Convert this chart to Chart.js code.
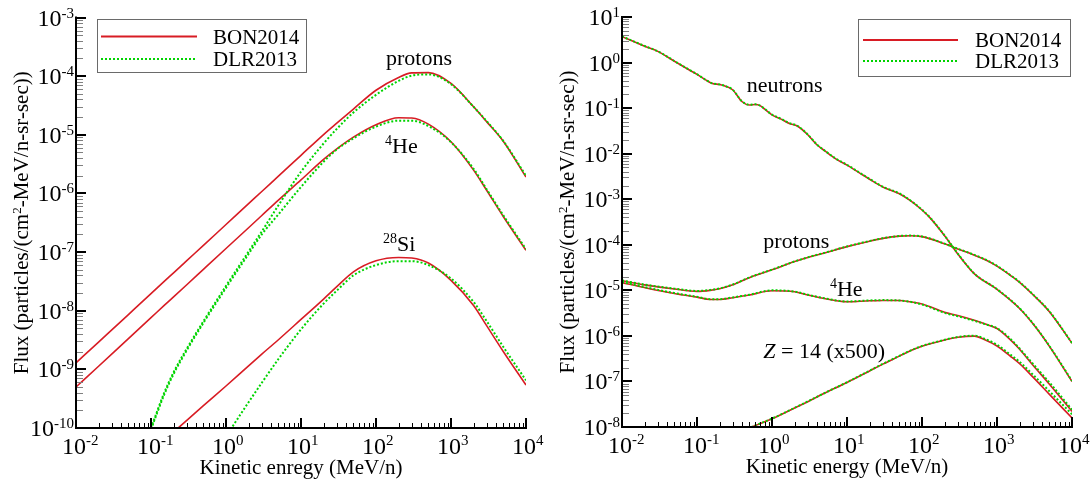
<!DOCTYPE html>
<html><head><meta charset="utf-8">
<script src="https://cdn.jsdelivr.net/npm/chart.js@4.4.0/dist/chart.umd.min.js"></script>
<style>
html,body{margin:0;padding:0;background:#fff;}
#wrap{position:relative;width:1090px;height:485px;background:#fff;}
canvas{position:absolute;top:0;}
#c1{left:0;} #c2{left:545px;}
</style></head><body>
<div id="wrap"><canvas id="c1" width="545" height="485"></canvas><canvas id="c2" width="545" height="485"></canvas></div>
<script>
// ---------- data ----------
const energyLeft = [0.01,0.02,0.05,0.1,0.15,0.2,0.3,0.5,1,2,3,5,10,20,30,50,100,200,300,500,1000,2000,3000,5000,10000];
const leftProtonsBON = [1.29e-9,2.92e-9,8.6e-9,1.95e-8,3.16e-8,4.42e-8,7.13e-8,1.30e-7,2.95e-7,6.68e-7,1.08e-6,1.97e-6,4.47e-6,1.01e-5,1.58e-5,2.75e-5,5.75e-5,9.5e-5,1.135e-4,1.15e-4,7.5e-5,3.0e-5,1.66e-5,7.7e-6,1.9e-6];
const leftProtonsDLR = [null,null,null,1.0e-10,3.98e-10,8.9e-10,2.26e-9,6.6e-9,2.65e-8,1.02e-7,2.25e-7,6.27e-7,2.34e-6,7.1e-6,1.26e-5,2.4e-5,4.8e-5,8.3e-5,1.02e-4,1.07e-4,7.3e-5,3.0e-5,1.7e-5,7.8e-6,2.0e-6];
const leftHeBON = [5.0e-10,1.13e-9,3.35e-9,7.6e-9,1.23e-8,1.72e-8,2.77e-8,5.07e-8,1.15e-7,2.6e-7,4.2e-7,7.7e-7,1.7e-6,3.8e-6,5.75e-6,9.1e-6,1.48e-5,1.95e-5,1.93e-5,1.52e-5,7.6e-6,2.5e-6,1.12e-6,4.0e-7,1.07e-7];
const leftHeDLR = [null,null,null,9.5e-11,3.7e-10,8.3e-10,2.11e-9,6.2e-9,2.45e-8,9.3e-8,2.0e-7,4.4e-7,1.29e-6,3.47e-6,5.6e-6,8.7e-6,1.38e-5,1.74e-5,1.74e-5,1.41e-5,7.5e-6,2.63e-6,1.17e-6,4.2e-7,1.12e-7];
const leftSiBON = [null,null,null,null,null,8.5e-11,1.35e-10,2.4e-10,5.2e-10,1.15e-9,1.82e-9,3.2e-9,7.1e-9,1.58e-8,2.57e-8,4.6e-8,7.1e-8,8.1e-8,7.9e-8,6.5e-8,3.3e-8,1.23e-8,5.5e-9,2.0e-9,5.4e-10];
const leftSiDLR = [null,null,null,null,null,null,null,null,7.2e-11,2.75e-10,5.9e-10,1.5e-9,4.8e-9,1.32e-8,2.2e-8,4.0e-8,6.0e-8,7.0e-8,7.0e-8,6.0e-8,3.55e-8,1.41e-8,6.6e-9,2.4e-9,6.5e-10];

const energyNeutrons = [0.01,0.02,0.03,0.05,0.08,0.1,0.13,0.16,0.2,0.25,0.3,0.4,0.5,0.6,0.7,0.8,1,1.3,1.7,2.2,3,4,5,7,10,15,20,30,50,70,100,130,200,300,500,1000,2000,3000,5000,10000];
const rightNeutronsBON = [3.7,2.29,1.76,1.07,0.68,0.55,0.417,0.347,0.33,0.295,0.25,0.138,0.117,0.12,0.112,0.095,0.071,0.058,0.046,0.040,0.026,0.0155,0.0117,0.0078,0.0056,0.0037,0.00275,0.00186,0.00132,0.00093,0.00058,0.00038,1.58e-4,6.3e-5,2.3e-5,1.05e-5,4.0e-6,1.86e-6,5.9e-7,1.0e-7];
const rightNeutronsDLR = [3.75,2.31,1.77,1.08,0.69,0.555,0.42,0.35,0.332,0.297,0.252,0.14,0.118,0.121,0.113,0.096,0.072,0.059,0.047,0.0405,0.0263,0.0157,0.0118,0.0079,0.0057,0.00375,0.0028,0.00188,0.00134,0.00094,0.00059,0.000385,1.6e-4,6.4e-5,2.33e-5,1.06e-5,4.05e-6,1.9e-6,6.0e-7,1.03e-7];

const energyRight = [0.01,0.02,0.05,0.1,0.15,0.2,0.3,0.5,1,2,3,5,10,20,30,50,70,100,200,300,500,700,1000,1500,2000,3000,5000,10000];
const rightProtonsBON = [1.62e-5,1.32e-5,1.07e-5,9.5e-6,1.0e-5,1.08e-5,1.32e-5,1.9e-5,2.82e-5,4.27e-5,5.25e-5,6.6e-5,9.1e-5,1.2e-4,1.38e-4,1.55e-4,1.58e-4,1.51e-4,1.05e-4,8.1e-5,5.9e-5,4.7e-5,3.4e-5,2.14e-5,1.5e-5,8.1e-6,3.4e-6,6.9e-7];
const rightProtonsDLR = [1.65e-5,1.34e-5,1.09e-5,9.7e-6,1.02e-5,1.1e-5,1.34e-5,1.92e-5,2.85e-5,4.3e-5,5.3e-5,6.65e-5,9.2e-5,1.21e-4,1.39e-4,1.56e-4,1.59e-4,1.52e-4,1.06e-4,8.2e-5,6.0e-5,4.75e-5,3.45e-5,2.17e-5,1.52e-5,8.2e-6,3.45e-6,7.0e-7];
const rightHeBON = [1.48e-5,1.15e-5,8.5e-6,7.1e-6,6.3e-6,6.3e-6,6.9e-6,7.9e-6,9.8e-6,9.3e-6,7.9e-6,6.6e-6,5.6e-6,5.9e-6,6.0e-6,6.0e-6,5.6e-6,5.0e-6,3.3e-6,2.8e-6,2.2e-6,1.82e-6,1.45e-6,8.3e-7,5.1e-7,2.3e-7,8.7e-8,2.2e-8];
const rightHeDLR = [1.52e-5,1.18e-5,8.7e-6,7.2e-6,6.4e-6,6.4e-6,7.0e-6,8.0e-6,1.0e-5,9.4e-6,8.0e-6,6.7e-6,5.7e-6,6.0e-6,6.1e-6,6.0e-6,5.6e-6,4.9e-6,3.2e-6,2.7e-6,2.14e-6,1.8e-6,1.48e-6,8.7e-7,5.3e-7,2.45e-7,9.5e-8,2.4e-8];
const rightZ14BON = [null,null,null,null,null,null,6.5e-9,9.5e-9,1.51e-8,2.6e-8,3.6e-8,5.5e-8,9.5e-8,1.7e-7,2.4e-7,3.6e-7,4.7e-7,5.9e-7,8.1e-7,9.3e-7,9.9e-7,8.1e-7,6.0e-7,3.6e-7,2.45e-7,1.26e-7,5.2e-8,1.58e-8];
const rightZ14DLR = [null,null,null,null,null,null,6.6e-9,9.6e-9,1.53e-8,2.63e-8,3.65e-8,5.55e-8,9.6e-8,1.72e-7,2.43e-7,3.65e-7,4.75e-7,6.0e-7,8.2e-7,9.5e-7,1.01e-6,8.5e-7,6.4e-7,3.9e-7,2.7e-7,1.42e-7,6.1e-8,1.9e-8];

const xTickExponents = [-2,-1,0,1,2,3,4];
const yTickExponentsLeft = [-10,-9,-8,-7,-6,-5,-4,-3];
const yTickExponentsRight = [-8,-7,-6,-5,-4,-3,-2,-1,0,1];
const seriesNames = ['BON2014','DLR2013'];

// ---------- styling / drawing ----------
const RED = '#d81c24', GREEN = '#00d400';
const SERIF = '"Liberation Serif","Times New Roman",Times,serif';
const TICK_BIG = 24, TICK_SUP = 15;
function fnt(sz, it){ return (it ? 'italic ' : '') + sz + 'px ' + SERIF; }

function pts(xs, ys){ return xs.map((x,i)=>({x:x, y:ys[i]})); }
function ds(label, xs, ys){
  const dlr = label === seriesNames[1];
  return { label, data: pts(xs, ys), borderColor: dlr ? GREEN : RED, borderWidth: dlr ? 2 : 1.6,
    borderDash: dlr ? [2,2] : [], pointRadius: 0, fill: false, cubicInterpolationMode: 'monotone',
    order: dlr ? 0 : 1, spanGaps: false };
}

function richWidth(ctx, parts, size){
  let w = 0;
  for (const p of parts){ ctx.font = fnt(p.sup ? Math.round(size*0.64) : size, p.it); w += ctx.measureText(p.t).width; }
  return w;
}
function drawRich(ctx, parts, x, y, size){
  let cx = x;
  for (const p of parts){
    const sz = p.sup ? Math.round(size*0.64) : size;
    ctx.font = fnt(sz, p.it);
    ctx.fillText(p.t, cx, p.sup ? y - size*0.34 : y);
    cx += ctx.measureText(p.t).width;
  }
}

const framePlugin = {
  id: 'frame',
  afterDraw(chart, args, o){
    const ctx = chart.ctx, ca = chart.chartArea, xs = chart.scales.x, ys = chart.scales.y;
    ctx.save();
    ctx.lineCap = 'butt';
    // minor x ticks
    ctx.strokeStyle = '#000'; ctx.lineWidth = 1; ctx.beginPath();
    for (let i = 0; i < o.xExps.length - 1; i++) for (let m = 2; m <= 9; m++){
      const px = Math.round(xs.getPixelForValue(m*Math.pow(10, o.xExps[i]))) + 0.5;
      ctx.moveTo(px, ca.bottom); ctx.lineTo(px, ca.bottom - 5);
    }
    ctx.stroke();
    // minor y ticks
    ctx.strokeStyle = '#808080'; ctx.beginPath();
    for (let i = 0; i < o.yExps.length - 1; i++) for (let m = 2; m <= 9; m++){
      const py = Math.round(ys.getPixelForValue(m*Math.pow(10, o.yExps[i]))) + 0.5;
      ctx.moveTo(ca.left, py); ctx.lineTo(ca.left + 7, py);
    }
    ctx.stroke();
    // major ticks
    ctx.strokeStyle = '#000'; ctx.lineWidth = 2; ctx.beginPath();
    for (const e of o.xExps){ const px = Math.round(xs.getPixelForValue(Math.pow(10,e))); ctx.moveTo(px, ca.bottom); ctx.lineTo(px, ca.bottom - 10); }
    for (const e of o.yExps){ const py = Math.round(ys.getPixelForValue(Math.pow(10,e))); ctx.moveTo(ca.left, py); ctx.lineTo(ca.left + 10, py); }
    ctx.stroke();
    // axis lines
    ctx.lineWidth = 2; ctx.beginPath();
    ctx.moveTo(ca.left, ca.top - 1); ctx.lineTo(ca.left, ca.bottom); ctx.lineTo(ca.right + 1, ca.bottom);
    ctx.stroke();

    ctx.fillStyle = '#000'; ctx.textAlign = 'left'; ctx.textBaseline = 'alphabetic';
    // x tick labels
    for (const e of o.xExps){
      const px = xs.getPixelForValue(Math.pow(10,e));
      ctx.font = fnt(TICK_BIG); const w10 = ctx.measureText('10').width;
      const x0 = px - w10/2 - 2;
      ctx.fillText('10', x0, ca.bottom + 25.5);
      ctx.font = fnt(TICK_SUP); ctx.fillText(String(e), x0 + w10, ca.bottom + 17);
    }
    // y tick labels
    for (const e of o.yExps){
      const py = ys.getPixelForValue(Math.pow(10,e));
      ctx.font = fnt(TICK_BIG); const w10 = ctx.measureText('10').width;
      ctx.font = fnt(TICK_SUP); const we = ctx.measureText(String(e)).width;
      const x0 = ca.left - 2 - w10 - we;
      ctx.font = fnt(TICK_BIG); ctx.fillText('10', x0, py + 8);
      ctx.font = fnt(TICK_SUP); ctx.fillText(String(e), x0 + w10, py);
    }
    // x title
    ctx.font = fnt(21); ctx.textAlign = 'center';
    ctx.fillText(o.xTitle, (ca.left + ca.right)/2, ca.bottom + 46);
    // y title (rotated)
    ctx.textAlign = 'left';
    const yparts = [{t:'Flux (particles/(cm'},{t:'2',sup:1},{t:'-MeV/n-sr-sec))'}];
    const tw = richWidth(ctx, yparts, 21);
    ctx.save();
    ctx.translate(o.yTitleX, (ca.top + ca.bottom)/2);
    ctx.rotate(-Math.PI/2);
    drawRich(ctx, yparts, -tw/2, 0, 21);
    ctx.restore();
    // curve annotations
    for (const a of o.notes){
      drawRich(ctx, a.parts, xs.getPixelForValue(a.x), ys.getPixelForValue(a.y), 22);
    }
    // legend
    const L = o.legend;
    ctx.strokeStyle = '#6a6a6a'; ctx.lineWidth = 1;
    ctx.strokeRect(Math.round(L.box[0]) + 0.5, Math.round(L.box[1]) + 0.5, L.box[2], L.box[3]);
    L.rows.forEach((r, i) => {
      ctx.beginPath();
      ctx.strokeStyle = i === 0 ? RED : GREEN;
      ctx.lineWidth = 2;
      ctx.setLineDash(i === 0 ? [] : [2,2]);
      ctx.moveTo(L.lineX[0], r.y); ctx.lineTo(L.lineX[1], r.y); ctx.stroke();
      ctx.setLineDash([]);
      ctx.font = fnt(21); ctx.fillStyle = '#000';
      ctx.fillText(seriesNames[i], L.textX, r.base);
    });
    ctx.restore();
  }
};

function makeChart(id, datasets, yMin, yMax, pad, frameOpts){
  return new Chart(document.getElementById(id), {
    type: 'line',
    data: { datasets },
    options: {
      responsive: false, animation: false, devicePixelRatio: 1, events: [],
      layout: { padding: pad },
      plugins: { legend: { display: false }, tooltip: { enabled: false }, frame: frameOpts },
      scales: {
        x: { type: 'logarithmic', min: 0.01, max: 10000, bounds: 'data', display: false },
        y: { type: 'logarithmic', min: yMin, max: yMax, bounds: 'data', display: false }
      }
    },
    plugins: [framePlugin]
  });
}

makeChart('c1', [
  ds(seriesNames[0], energyLeft, leftProtonsBON), ds(seriesNames[1], energyLeft, leftProtonsDLR),
  ds(seriesNames[0], energyLeft, leftHeBON), ds(seriesNames[1], energyLeft, leftHeDLR),
  ds(seriesNames[0], energyLeft, leftSiBON), ds(seriesNames[1], energyLeft, leftSiDLR)
], 1e-10, 1e-3, {left:76, right:19, top:17.5, bottom:57}, {
  xExps: xTickExponents, yExps: yTickExponentsLeft, xTitle: 'Kinetic enregy (MeV/n)', yTitleX: 28,
  notes: [
    {parts:[{t:'protons'}], x:136, y:1.55e-4},
    {parts:[{t:'4',sup:1},{t:'He'}], x:132, y:4.9e-6},
    {parts:[{t:'28',sup:1},{t:'Si'}], x:124, y:1.05e-7}
  ],
  legend: { box:[97,18.5,209,53], lineX:[101,197], textX:213, rows:[{y:36.5, base:44},{y:59, base:66}] }
});

makeChart('c2', [
  ds(seriesNames[0], energyNeutrons, rightNeutronsBON), ds(seriesNames[1], energyNeutrons, rightNeutronsDLR),
  ds(seriesNames[0], energyRight, rightProtonsBON), ds(seriesNames[1], energyRight, rightProtonsDLR),
  ds(seriesNames[0], energyRight, rightHeBON), ds(seriesNames[1], energyRight, rightHeDLR),
  ds(seriesNames[0], energyRight, rightZ14BON), ds(seriesNames[1], energyRight, rightZ14DLR)
], 1e-8, 10, {left:77, right:18, top:17, bottom:58}, {
  xExps: xTickExponents, yExps: yTickExponentsRight, xTitle: 'Kinetic energy (MeV/n)', yTitleX: 29,
  notes: [
    {parts:[{t:'neutrons'}], x:0.46, y:0.23},
    {parts:[{t:'protons'}], x:0.766, y:8.5e-5},
    {parts:[{t:'4',sup:1},{t:'He'}], x:5.93, y:7.6e-6},
    {parts:[{t:'Z',it:1},{t:' = 14 (x500)'}], x:0.766, y:3.3e-7}
  ],
  legend: { box:[312.5,19,212,57], lineX:[318,413], textX:430, rows:[{y:40, base:47},{y:61, base:68}] }
});
</script></body></html>
